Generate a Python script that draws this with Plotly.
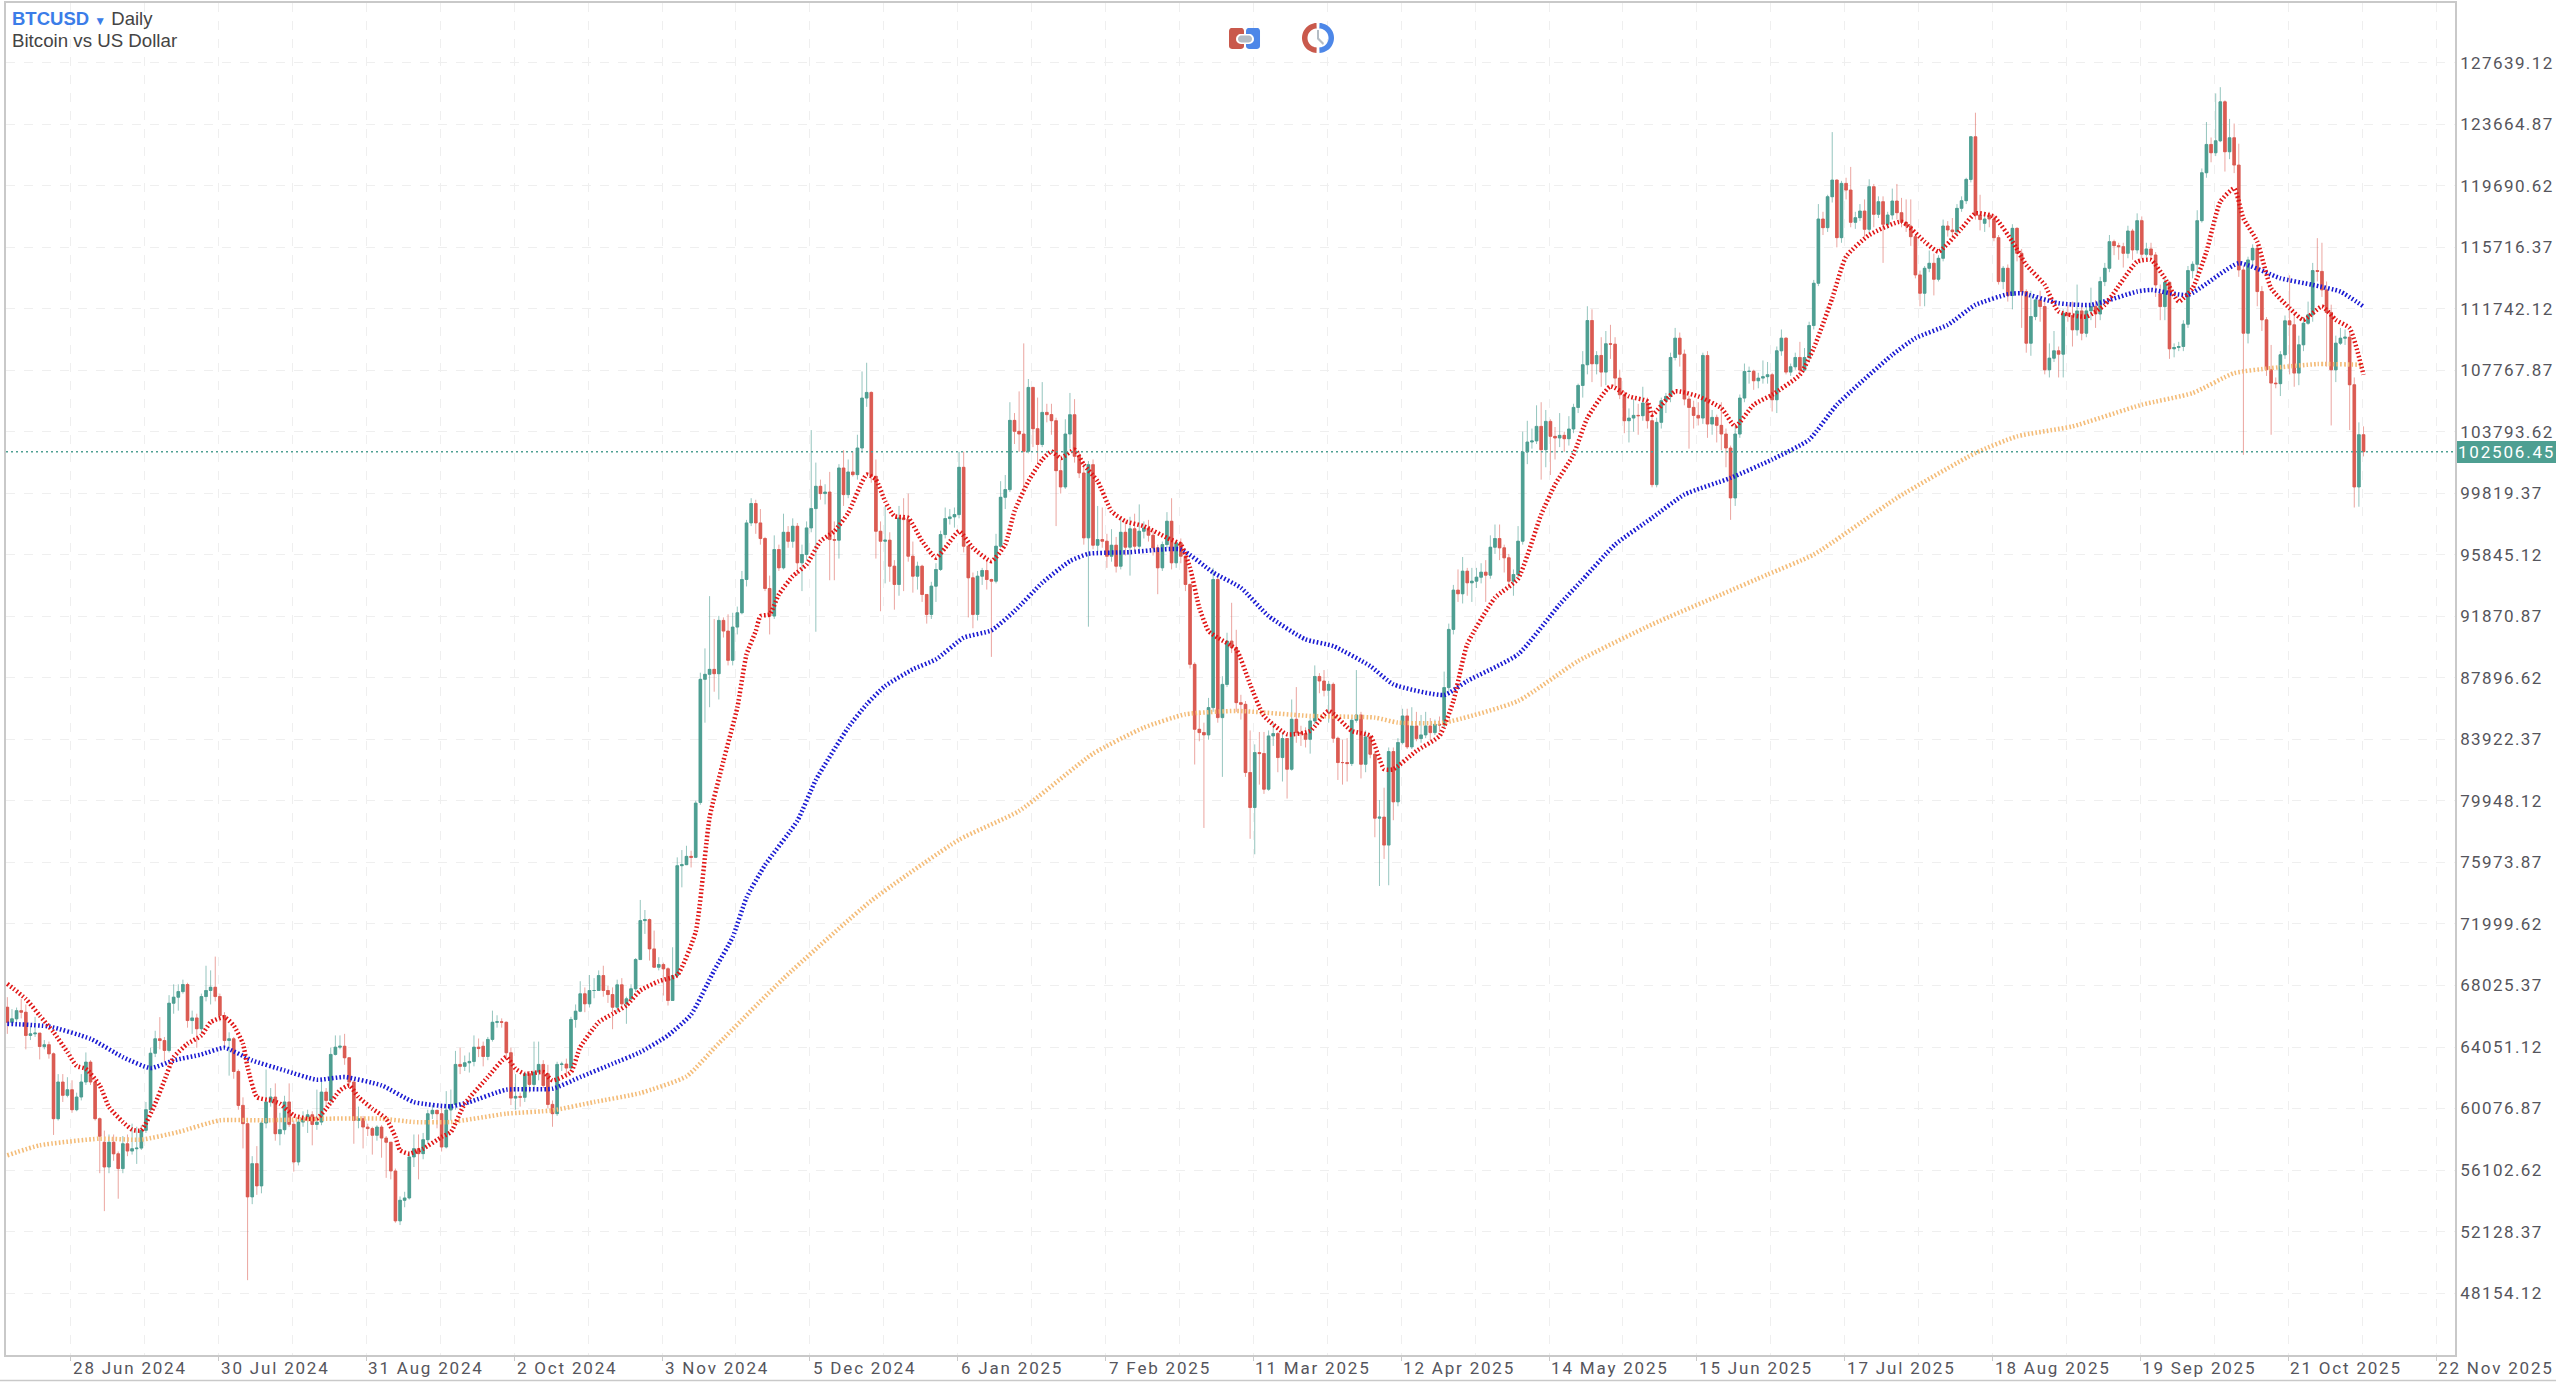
import numpy as np
import pandas as pd
import plotly.graph_objects as go

# --- daily candles (BTCUSD), first bar 14 Jun 2024 ---
closes = [
    65650,65870,66400,66300,64800,64900,64950,64080,64200,63610,
    59420,61790,60930,61290,60000,60820,61790,63075,61790,59420,
    58280,56300,57900,57150,56200,57800,57330,57480,57520,58670,
    60000,63650,64580,64470,63830,66880,67270,67630,68085,65760,
    65930,65230,67310,67700,67910,67310,66085,64470,64580,62470,
    60280,59100,54370,56515,55080,59140,60500,60820,58450,58710,
    60500,59056,56625,59200,59420,59670,59050,59200,61140,60600,
    63570,64040,64100,63355,61785,59310,59420,58880,58780,58350,
    58880,58170,57900,56045,52820,54150,54300,56950,57485,57163,
    58065,59740,59960,59740,57590,59980,60340,62925,62800,63030,
    63120,64040,63950,63440,64540,65650,65680,65650,63680,60750,
    60860,60800,62320,61635,62430,62925,61570,60345,59745,62925,
    62950,62690,65830,66365,67485,66840,67700,67700,68665,67700,
    67440,66620,68065,66840,67160,67808,69700,72215,72280,70388,
    69205,69378,69100,67055,68668,75763,75827,76365,76300,79805,
    87800,88123,88445,88165,91607,90918,89026,91176,92100,94250,
    97905,99153,97905,96895,93670,91885,96185,95003,97300,96720,
    97690,95325,95863,97583,98830,100270,99800,99900,96830,96790,
    101453,99733,101195,101023,102743,105968,106333,100915,97368,96723,
    96790,95110,93928,98228,98120,95755,94465,95110,93283,91993,
    93820,94895,97153,98185,98293,98443,101496,96400,94358,91993,
    94465,94830,94250,94143,96400,99560,100055,104528,103818,103646,
    102528,106656,103990,102970,105043,104900,104506,101280,100228,103646,
    104893,102205,101130,96938,101668,96465,96830,96723,95755,96465,
    95110,97300,96336,97520,96400,97368,97570,97110,96293,95003,
    96508,98013,95325,96615,95755,93928,88768,84575,84360,84210,
    85973,94250,85328,87473,90273,89843,86295,86188,81780,79520,
    83070,83006,80705,84145,84295,82748,83973,81995,85220,84360,
    84295,83930,85113,87985,87693,87091,87478,83995,82425,82425,
    82360,85156,85500,82318,84080,82963,78835,78900,77094,83135,
    79888,83716,85435,83436,84790,83973,84210,84790,84360,84898,
    84850,87265,91025,93563,93326,94788,94035,94143,94400,94723,
    94530,96336,96895,96293,95648,94143,94572,96723,102485,103130,
    103200,104140,102635,104463,103495,103390,103560,103345,103970,105366,
    106785,108120,110977,108183,108720,107645,109473,109450,107258,106183,
    104506,104678,104850,104830,105650,104506,100378,104400,105796,106075,
    108591,109838,108806,105903,105366,104850,104678,108720,104290,104720,
    104205,103645,102743,99518,103646,105968,107688,107700,107086,107258,
    107350,107473,105860,109021,109838,107645,107989,108591,107774,108591,
    110655,113386,117535,116976,118975,120050,116331,119836,119405,117320,
    117621,118051,116868,119621,117836,118653,117191,117793,118696,117943,
    117320,117083,116395,113923,112740,114353,114675,113643,114998,117083,
    116826,116718,118223,118718,120093,122846,117793,117500,117535,117535,
    116331,113493,114353,112590,116933,115320,112848,109515,111235,112310,
    111880,107796,108548,109021,108806,111450,111300,110375,111600,110160,
    111600,111880,111400,113493,114353,116073,115815,115750,115320,116761,
    115536,117428,115256,115600,115213,113278,111880,113450,109150,109236,
    109300,110743,114202,114611,117428,120523,122351,121813,122587,125103,
    121878,122781,121018,114246,110160,114891,115643,112848,111020,107796,
    106936,106900,108763,110956,110698,107580,109408,110805,111343,114202,
    114150,112955,111500,107796,109515,109838,109900,106828,100227,103603,
    102506.45,
]
opens = [
    66620,65650,65870,66400,66300,64800,64900,64950,64080,64200,
    63610,59420,61790,60930,61290,60000,60820,61790,63075,61790,
    59420,57900,56300,57900,57150,56200,57800,57330,57480,57520,
    58670,60000,63650,64580,64470,63830,66880,67270,67630,68085,
    65760,65930,65230,67310,67700,67910,67310,66085,64470,64580,
    62470,60280,59100,54370,56515,55080,59140,60500,60820,58450,
    58710,60500,59056,56625,59200,59420,59670,59050,59200,61140,
    60600,63570,64040,64100,63355,61785,59310,59420,58880,58780,
    58350,58880,58170,57900,56045,52820,54150,54300,56950,57485,
    57163,58065,59740,59960,59740,57590,59980,60340,62925,62800,
    63030,63120,64040,64100,63440,64540,65650,65680,65650,63680,
    60750,60860,60800,62320,61635,62430,62925,62320,60345,59745,
    62925,62950,62690,65830,66365,67485,66840,67700,67700,68665,
    67700,67440,66620,68065,66840,67160,67808,69700,72215,72280,
    70388,69205,69378,69100,67055,68668,75763,75827,76365,76300,
    79845,87800,88123,88445,88165,91607,90918,89026,91176,92100,
    94250,97905,99153,97905,96895,93670,91885,96185,95003,97300,
    96720,97690,95325,95863,97583,98830,100270,99800,99900,96830,
    96790,101453,99733,101195,101023,102743,105968,106333,100915,97368,
    96723,96790,95110,93928,98228,98120,95755,94465,95110,93283,
    91993,93820,94895,97153,98185,98293,98443,101496,96400,94358,
    91993,94465,94830,94250,94143,96400,99560,100055,104528,103818,
    103646,102528,106656,103990,102970,105043,104900,104506,101280,100228,
    103646,104893,102205,101130,96938,101668,96465,96830,96723,95755,
    96465,95110,97300,96336,97520,96400,97368,97570,97110,96293,
    95003,96508,98013,95325,96615,95755,93928,88768,84575,84360,
    84210,85973,94250,85328,87473,90273,89843,86295,86188,81780,
    79520,83070,83006,80705,84145,84295,82748,83973,81995,85220,
    84360,84295,83930,85113,87985,87693,87091,87478,83995,82425,
    82425,82360,85156,85500,82318,84080,82963,78835,78900,77094,
    83135,79888,83716,85435,83436,84790,83973,84210,84790,84360,
    84898,84850,87265,91025,93563,93326,94788,94035,94143,94400,
    94723,94530,96336,96895,96293,95648,94143,94572,96723,102485,
    103130,103200,104140,102635,104463,103495,103390,103560,103345,103970,
    105366,106785,108120,110977,108183,108720,107645,109473,109450,107258,
    106183,104506,104678,104850,104830,105650,104506,100378,104400,105796,
    106075,108591,109838,108806,105903,105366,104850,104678,108720,104290,
    104720,104205,103645,102743,99518,103646,105968,107688,107700,107086,
    107258,107350,107473,105860,109021,109838,107645,107989,108591,107774,
    108591,110655,113386,117535,116976,118975,120050,116331,119836,119405,
    117320,117621,118051,116868,119621,117836,118653,117191,117793,118696,
    117943,117320,117083,116395,113923,112740,114353,114675,113643,114998,
    117083,116826,116718,118223,118718,120093,122846,117793,117255,117793,
    117535,116331,113493,114353,112590,116933,115320,112848,109515,111235,
    112310,111880,107796,108548,109021,108806,111450,111300,110375,111600,
    110160,111600,111880,111400,113493,114353,116073,115815,115750,115320,
    116761,115536,117428,115256,115600,115213,112700,111880,113450,109150,
    109236,109300,110743,114202,114611,117428,120523,122351,121813,122587,
    125103,121878,122781,121018,114246,110160,114891,115643,112848,111020,
    107796,106936,106900,108763,110956,110698,107580,109408,110805,111343,
    114202,114150,112955,111500,107796,109515,109838,109900,106828,100227,
    103603,
]
highs = [
    67270,66500,66600,67160,66800,65400,66000,64900,64500,64400,
    63700,62300,62300,62100,61900,61100,62300,63700,63200,62000,
    59500,58650,58400,58400,57300,58300,58400,59100,58900,59000,
    60500,64000,65100,65980,64700,67400,68100,68100,68400,68200,
    66400,66200,67500,69300,69000,69890,67500,66300,65000,64700,
    62600,60800,59200,57000,57650,59300,62600,61400,61700,59800,
    60900,61700,59300,59400,59900,60000,59900,61300,61800,61400,
    64000,64800,64800,64900,63400,61900,60200,59600,59100,58900,
    59000,59000,58300,57900,56200,54400,54700,57300,58400,58400,
    58500,60000,60300,60000,60200,61200,61300,63800,64000,63500,
    63700,64800,64600,64400,64700,66400,66100,65900,65700,64000,
    62300,61100,62400,62500,64400,64400,63200,62900,60600,63100,
    63100,63300,66000,66800,68300,67900,68700,68500,69000,69300,
    68000,67900,68400,68500,67300,68100,69800,73548,72900,72350,
    71570,69850,69500,69200,70495,76300,76773,77050,76730,79955,
    88230,89800,93175,91700,91900,91800,92000,92100,92500,94800,
    98100,99500,99400,98800,97000,94500,97100,96500,98500,97700,
    98200,97900,96500,98000,103900,101800,100700,100400,101200,98000,
    101700,102600,102000,102500,103600,107688,108250,106400,102000,98000,
    99000,97300,95500,99000,99500,99800,96700,95400,95200,93300,
    94100,95300,97400,98900,98800,98900,102500,102500,96500,94700,
    94800,95000,95500,94300,97200,100600,101000,105700,105000,106400,
    109500,107200,106700,106000,107000,105600,105600,104700,102000,104600,
    106300,105900,102500,101700,101900,102000,99000,98900,97200,97500,
    97000,98200,98000,98300,98500,99100,98000,98100,97400,96500,
    96700,98600,99500,96800,96900,96000,94000,88900,85800,85000,
    86600,95000,94400,88000,90810,92745,91000,86800,86400,84500,
    83600,84400,84400,84500,85000,84400,84400,84000,86500,87300,
    84800,84700,85300,88700,88200,88400,87700,87600,84100,83900,
    84000,85300,88400,85700,84500,84200,83100,80000,80800,83400,
    83400,84000,85900,85900,86000,85700,85500,85700,85300,85200,
    85400,88300,91400,93900,94900,95700,95000,95000,95000,95300,
    95500,97100,97800,97800,96500,95900,94900,97700,103800,104500,
    104000,105500,105700,105200,104600,104100,105000,103800,104800,105600,
    106900,109000,111900,111700,109000,109900,110300,110700,109900,107800,
    106400,105300,105900,105600,106700,106000,105000,104700,106000,106300,
    108900,110500,110200,109100,106100,105800,105700,108900,109000,105200,
    104900,105700,104000,102900,104200,106200,108200,108000,107800,107600,
    108400,108300,107600,109300,110400,109900,108200,108900,109600,109200,
    110900,113600,118500,118000,119100,123150,120100,120000,120200,120900,
    118000,118500,118800,120100,119800,119000,119000,118000,119500,119800,
    118900,118800,118800,116500,114200,114500,115500,115300,115200,117500,
    117400,117600,118500,119000,120200,122900,124400,119100,118000,118000,
    117800,116500,114500,114600,117200,117000,115600,113000,112900,112500,
    112900,112500,109500,110300,109300,111700,112000,112200,113300,112000,
    111900,113100,112300,113800,114700,116500,116200,116000,116000,117100,
    116900,117900,117700,116000,116000,115400,113300,113700,113500,109500,
    109600,111000,114500,114800,118100,120800,123800,122800,125650,126050,
    125200,124000,123700,122400,114500,115100,115900,115900,113200,111200,
    109400,107300,109000,111300,113900,111500,110000,111200,112200,114700,
    116300,116000,113500,112000,110000,110500,110400,110200,107300,104400,
    104140,
]
lows = [
    64900,65500,65600,65900,63900,64500,64700,63250,63900,63300,
    58370,59300,60500,60800,59800,59900,60600,61600,61600,59300,
    55900,53450,55900,56700,54250,55900,57000,57100,56500,57400,
    58500,59900,63400,63900,63100,63700,66200,66400,67500,65300,
    64900,64000,64900,67000,66800,67000,65700,64000,62200,62000,
    60000,57500,48990,53900,54500,54600,58800,60200,58000,57700,
    58400,58900,56000,56400,58900,58500,57700,58700,59000,60300,
    60400,63500,63900,62900,61500,57800,58800,57500,58300,57100,
    58000,56900,55600,55500,52700,52550,53700,54200,56300,55500,
    56800,57800,59400,58800,57300,57500,59300,60000,62300,62500,
    62400,62800,63400,62800,63200,64400,65300,65300,63300,60300,
    60000,60200,60500,61100,61300,61900,61400,60100,58900,59600,
    62500,62200,62600,65300,66300,66300,66600,67200,67700,67300,
    66900,65200,66300,66500,65550,67100,67600,69700,71355,69635,
    69150,69000,67375,66730,67050,68500,74365,75800,75650,76250,
    79700,85000,86000,87000,86500,90500,88700,88700,90700,92000,
    93800,97700,97200,96500,93500,90700,91700,94800,94900,96300,
    96300,94500,93500,95500,97300,90875,99400,99100,94200,94200,
    95600,99000,99500,100900,100700,102500,105400,100500,95600,92200,
    94000,94100,92300,93200,93500,95400,93400,93600,92800,91400,
    91700,92800,94800,96900,97800,97600,98200,96000,91800,91100,
    91600,93900,93600,89250,94000,96300,98800,99900,103000,102500,
    99900,102400,102800,101800,102800,104400,103600,97700,99800,100100,
    102700,101800,100800,96500,91200,96200,96000,96300,95000,95400,
    94700,94900,95800,94500,96000,96200,96900,96700,95800,93300,
    94800,96300,94900,95000,95300,93500,88500,82300,83800,78200,
    83900,85700,85000,81500,87300,89500,85700,85200,81500,77500,
    76500,81000,80400,80600,83500,81800,81200,80100,81900,83700,
    83500,83400,83000,84900,86900,86700,85000,83700,81300,81000,
    81200,82200,85000,81400,81800,82700,77600,74450,76200,74500,
    78700,79600,83600,83300,83300,83800,83700,84000,83900,84200,
    84400,84700,87000,90700,92800,92700,93200,92800,93700,94000,
    92800,94300,95900,95500,94700,93700,93200,94300,96500,101700,
    102700,103000,100700,101500,101000,102000,102800,102500,102900,103700,
    105000,106000,107500,107000,107500,106700,106800,108500,106700,105900,
    103700,103100,103800,103600,104500,104000,100200,100200,104000,105000,
    105700,108400,108000,105500,102700,104000,104200,104300,103400,103600,
    103100,102600,101500,98100,99000,103400,105700,106900,106500,106600,
    106900,106900,105100,105000,108700,107500,107400,107800,107400,107700,
    108300,110400,113200,116500,116700,118600,115700,116000,118800,117000,
    116900,117400,116400,116600,117000,117600,114700,116900,117500,117500,
    117000,116700,115800,113700,111900,111900,114100,112600,113500,114800,
    116400,116300,116500,118000,118500,119900,117500,116800,116700,117000,
    116100,113300,113000,112200,111700,114800,110500,108900,108700,111000,
    110900,107500,107300,108300,107300,107300,110900,109300,110000,109700,
    109900,111000,110500,111000,113200,114100,115200,114900,114400,115000,
    114900,115300,115000,115100,114900,112500,111000,111000,108500,108600,
    109000,109000,110500,113700,114000,117300,120200,121200,121600,122500,
    120600,121400,120500,113800,102300,109500,114400,111900,110300,107400,
    103600,106600,106100,108500,107500,106700,106800,109000,110700,110900,
    113500,112500,108000,104200,107000,109400,109400,103900,98900,98950,
    102200,
]
assert len(opens) == len(highs) == len(lows) == len(closes) == 511

dates = pd.date_range("2024-06-14", periods=len(closes), freq="D")

# --- moving averages, read at bar numbers ---
red_idx = [0,4,7,10,13,15,17,20,22,25,27,29,32,34,36,39,42,44,47,49,51,52,54,57,59,62,65,67,69,72,74,76,79,82,84,85,87,90,94,96,99,104,108,110,112,116,118,122,124,128,131,134,137,
           141,145,149,152,155,158,160,162,163,165,167,170,173,176,179,182,186,188,190,192,195,198,201,203,206,209,213,216,218,221,224,226,228,231,233,236,239,242,246,251,254,256,258,260,262,
           266,269,272,277,282,286,291,295,298,300,305,310,313,316,322,327,332,335,339,342,347,351,355,356,361,366,371,374,378,382,388,391,395,398,403,410,415,418,423,426,430,434,437,441,444,450,454,461,464,467,470,473,476,479,482,484,487,490,494,497,501,504,507,510]
red_vals = [68128,67160,66085,65010,63720,62820,62645,61570,60173,59205,58711,58668,60388,61893,63398,64258,64795,65655,65978,65440,64258,62753,60818,60603,60388,59635,59420,59420,60065,61248,61570,60818,60065,59420,58238,57378,57163,57485,58238,58560,60388,62108,63398,62645,62323,62430,61893,62430,64043,65655,66193,66731,67698,
            68300,68700,71500,78878,82533,85973,89413,90918,91885,91993,93283,94465,95218,96723,97368,98550,101023,100700,99303,98336,98228,96723,95648,96293,97368,96293,95433,96508,98658,100593,101990,102528,102098,102635,101668,100593,98658,98013,97690,96938,96508,95003,92423,90918,90488,
            89735,87478,85435,84253,84468,85758,84468,84145,81995,81995,83178,84145,86403,90058,93068,94300,98443,100378,102313,104678,106720,106075,105753,104893,106398,106075,105323,104140,105538,106183,107473,109193,112418,115105,116503,117363,116073,115428,116933,117900,117685,116073,114568,113278,111558,111235,111988,114783,114890,113708,112203,113063,115428,118653,119513,117578,116073,113063,111773,111020,111880,111020,110483,107473]
blue_idx = [0,9,18,25,31,36,42,47,53,60,67,73,81,88,96,100,108,118,124,131,137,143,148,153,157,160,164,171,175,182,186,190,196,201,207,213,218,224,230,234,243,254,261,267,273,281,287,295,300,311,316,327,336,341,348,356,363,373,382,390,396,408,413,420,426,433,436,444,451,461,464,472,483,492,499,505,510]
blue_vals = [65548,65376,64580,63398,62689,63183,63570,64000,63183,62538,61936,62108,61570,60495,60216,60495,61291,61355,62108,62968,63720,64800,66150,69000,71150,73700,75800,78663,81300,84683,86188,87370,88445,89090,90488,90961,92208,94035,95433,95906,96014,96186,94700,93713,91885,90380,89950,88660,87478,86790,87693,89413,92638,94250,96508,98228,99733,100808,102000,103280,105538,108763,109838,110698,111988,112676,112740,112096,111988,112848,112955,112633,114675,113708,113278,112848,111880]
orange_idx = [0,7,20,29,37,46,56,69,81,88,96,108,118,127,137,147,154,168,187,206,219,235,246,255,266,282,296,301,311,327,340,356,371,381,391,409,426,435,447,462,473,482,490,500,510]
orange_vals = [57055,57700,58130,58066,58560,59313,59313,59420,59420,59205,59205,59743,59958,60495,61076,62150,64290,68480,73500,77440,79300,83000,84683,85543,85758,85435,85328,85006,85006,86403,88983,91348,93283,94573,95863,99518,102420,103495,104140,105538,106290,107580,107903,108161,108118]

last_price = 102506.45

y_ticks = [48154.12,52128.37,56102.62,60076.87,64051.12,68025.37,71999.62,75973.87,79948.12,83922.37,87896.62,91870.87,95845.12,99819.37,103793.62,107767.87,111742.12,115716.37,119690.62,123664.87,127639.12]
x_tick_dates = ["2024-06-28","2024-07-30","2024-08-31","2024-10-02","2024-11-03","2024-12-05","2025-01-06","2025-02-07","2025-03-11","2025-04-12","2025-05-14","2025-06-15","2025-07-17","2025-08-18","2025-09-19","2025-10-21","2025-11-22"]
x_tick_labels = ["28 Jun 2024","30 Jul 2024","31 Aug 2024","2 Oct 2024","3 Nov 2024","5 Dec 2024","6 Jan 2025","7 Feb 2025","11 Mar 2025","12 Apr 2025","14 May 2025","15 Jun 2025","17 Jul 2025","18 Aug 2025","19 Sep 2025","21 Oct 2025","22 Nov 2025"]

GREEN = "#4e9f92"
RED = "#db5b52"
AXIS = "#c9c9c9"
GRID = "#efefef"
TXT = "#55555c"

# tick marks sit a little left of the bar centres
TICK_SHIFT = pd.Timedelta(hours=-7)

fig = go.Figure()

# thin wicks go under the solid bodies
fig.add_trace(go.Candlestick(
    x=dates, open=opens, high=highs, low=lows, close=closes,
    increasing=dict(line=dict(color="rgba(78,159,146,0.6)", width=1), fillcolor=GREEN),
    decreasing=dict(line=dict(color="rgba(219,91,82,0.55)", width=1), fillcolor=RED),
    showlegend=False,
))
body_top = [max(o, c) for o, c in zip(opens, closes)]
body_bot = [min(o, c) for o, c in zip(opens, closes)]
fig.add_trace(go.Candlestick(
    x=dates, open=opens, high=body_top, low=body_bot, close=closes,
    increasing=dict(line=dict(color=GREEN, width=0.5), fillcolor=GREEN),
    decreasing=dict(line=dict(color=RED, width=0.5), fillcolor=RED),
    showlegend=False,
))

for idx, vals, col in [(orange_idx, orange_vals, "#f4bc78"),
                       (blue_idx, blue_vals, "#1a1ad2"),
                       (red_idx, red_vals, "#e01515")]:
    fig.add_trace(go.Scatter(
        x=dates[idx], y=vals, mode="lines", showlegend=False,
        line=dict(color=col, width=4.5, dash="1.6px,2.2px", shape="spline", smoothing=0.5),
    ))

# plot box in page pixels, used for the two toolbar icons and the outer rule
PX_L, PX_R, PX_T, PX_B = 6, 2455, 1, 1355

def xp(x):
    return (x - PX_L) / (PX_R - PX_L)

def yp(y):
    return 1 - (y - PX_T) / (PX_B - PX_T)

def path(points):
    return "M " + " L ".join(f"{xp(x):.5f},{yp(y):.5f}" for x, y in points) + " Z"

def rounded(x0, y0, x1, y1, r):
    pts = []
    for cx, cy, a0 in [(x1 - r, y0 + r, -90), (x1 - r, y1 - r, 0), (x0 + r, y1 - r, 90), (x0 + r, y0 + r, 180)]:
        for a in np.radians(np.linspace(a0, a0 + 90, 7)):
            pts.append((cx + r * np.cos(a), cy + r * np.sin(a)))
    return pts

def half_ring(cx, cy, r0, r1, a0, a1):
    angs = np.radians(np.linspace(a0, a1, 30))
    outer = [(cx + r1 * np.cos(a), cy + r1 * np.sin(a)) for a in angs]
    inner = [(cx + r0 * np.cos(a), cy + r0 * np.sin(a)) for a in angs[::-1]]
    return outer + inner

def add_icon(points, color):
    fig.add_shape(type="path", path=path(points), xref="paper", yref="paper",
                  fillcolor=color, line=dict(width=0), layer="above")

ICON_RED = "#c9594c"
ICON_BLUE = "#4d87e8"
ICON_GRAY = "#b4bcc4"

# left icon
add_icon(rounded(1229, 26, 1244, 47, 3), ICON_RED)
add_icon(rounded(1246, 26, 1260, 47, 3), ICON_BLUE)
add_icon(rounded(1236, 32, 1254, 42, 5), "#ffffff")
add_icon(rounded(1238, 33.5, 1252, 40.5, 3.5), ICON_GRAY)
# right icon
add_icon(half_ring(1317, 36, 9.5, 15, 92, 268), ICON_RED)
add_icon(half_ring(1319, 36, 9.5, 15, -88, 88), ICON_BLUE)
add_icon([(1317, 28), (1319, 28), (1319, 36), (1324, 41), (1323, 43), (1317, 37)], ICON_GRAY)

# last price line and the outer bottom rule
fig.add_hline(y=last_price, line=dict(color=GREEN, width=1.5, dash="2px,3px"))
fig.add_shape(type="line", xref="paper", yref="paper",
              x0=-PX_L / (PX_R - PX_L), x1=(2556 - PX_L) / (PX_R - PX_L),
              y0=yp(1380.5), y1=yp(1380.5), line=dict(color=AXIS, width=1.5))

fig.add_annotation(x=1, y=last_price, xref="paper", yref="y", xanchor="left", yanchor="middle",
                   xshift=2, width=99, text="102506.45", showarrow=False, bgcolor=GREEN, borderpad=1, borderwidth=0,
                   font=dict(family="Roboto", size=17, color="#ffffff"), align="left")

# date labels start just right of their tick
for d, lab in zip(x_tick_dates, x_tick_labels):
    fig.add_annotation(x=pd.Timestamp(d) + TICK_SHIFT, y=0, xref="x", yref="paper", xanchor="left", yanchor="top",
                       xshift=10, yshift=-1, text=lab, showarrow=False,
                       font=dict(family="Roboto", size=17, color=TXT))

# header
fig.add_annotation(x=0, y=1, xref="paper", yref="paper", xanchor="left", yanchor="top", xshift=4, yshift=-3,
                   text='<b><span style="color:#3b7de8">BTCUSD</span></b> <span style="color:#3b7de8;font-size:12px">▼</span> Daily',
                   showarrow=False, align="left", font=dict(family="Liberation Sans", size=18.5, color="#444444"))
fig.add_annotation(x=0, y=1, xref="paper", yref="paper", xanchor="left", yanchor="top", xshift=4, yshift=-25,
                   text="Bitcoin vs US Dollar",
                   showarrow=False, align="left", font=dict(family="Liberation Sans", size=18.7, color="#444444"))

fig.update_layout(
    width=2556, height=1382,
    margin=dict(l=PX_L, r=2556 - PX_R, t=PX_T, b=1382 - PX_B),
    paper_bgcolor="white", plot_bgcolor="white",
    showlegend=False, boxgap=0.18, dragmode=False,
    xaxis=dict(
        type="date", rangeslider=dict(visible=False),
        range=["2024-06-13 17:00", "2025-11-25 19:12"],
        tick0=pd.Timestamp("2024-06-28") + TICK_SHIFT, dtick=32 * 86400000,
        showgrid=True, gridcolor=GRID, griddash="dash", gridwidth=1,
        minor=dict(dtick=16 * 86400000, tick0=pd.Timestamp("2024-06-28") + TICK_SHIFT,
                   showgrid=True, gridcolor=GRID, griddash="dash", gridwidth=1, ticks=""),
        ticks="outside", ticklen=4, tickcolor=AXIS, tickwidth=1, showticklabels=False,
        showline=True, linecolor=AXIS, linewidth=1.5, mirror=True, zeroline=False,
    ),
    yaxis=dict(
        side="right", range=[44156, 131488],
        tickvals=y_ticks, ticktext=[f"{v:.2f}" for v in y_ticks],
        showgrid=True, gridcolor=GRID, griddash="dash", gridwidth=1,
        ticks="", tickfont=dict(family="Roboto", size=17, color=TXT),
        showline=True, linecolor=AXIS, linewidth=1.5, mirror=True, zeroline=False,
    ),
)

# no page margin, and the wide letter spacing of the original labels (not the header)
fig.write_html("out.html", config={"displayModeBar": False}, post_script="""
document.body.style.margin = '0';
var s = document.createElement('style');
s.textContent = '.ytick text { letter-spacing: 1.4px; } '
  + '.annotation-text { letter-spacing: 1.8px; } '
  + '.annotation[data-index="18"] .annotation-text, .annotation[data-index="19"] .annotation-text { letter-spacing: 0; }';
document.head.appendChild(s);
""")
